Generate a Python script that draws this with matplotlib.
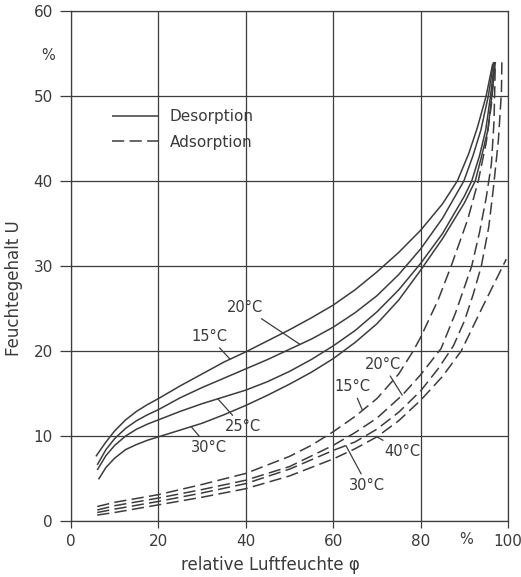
import numpy as np
import matplotlib
matplotlib.use("Agg")
import matplotlib.pyplot as plt
from matplotlib.lines import Line2D

# ---------------- data ----------------
# Desorption isotherms (solid)
des15_x = [5.7, 8, 10, 12.5, 15, 17.5, 20, 25, 30, 35, 40, 45, 50, 55, 60, 65, 70, 75, 80, 85, 88.4, 91, 93, 95, 96.5]
des15_y = [7.6, 9.3, 10.6, 11.9, 12.9, 13.7, 14.4, 15.9, 17.3, 18.7, 19.9, 21.2, 22.5, 23.9, 25.4, 27.2, 29.3, 31.6, 34.2, 37.3, 40, 43.2, 46.3, 50, 53.8]

des20_x = [6, 8, 10, 12.5, 15, 17.5, 20, 25, 30, 35, 40, 45, 50, 55, 60, 65, 70, 75, 80, 85, 89.9, 92, 93.8, 95.5, 96.7]
des20_y = [6.6, 8.4, 9.7, 10.9, 11.8, 12.5, 13.1, 14.5, 15.7, 16.8, 17.9, 19.0, 20.2, 21.4, 22.8, 24.5, 26.5, 29.0, 32.0, 35.6, 40, 43, 46, 50, 54]

des25_x = [6, 8, 10, 12.5, 15, 17.5, 20, 25, 30, 35, 40, 45, 50, 55, 60, 65, 70, 75, 80, 85, 90, 91.7, 93.5, 94.9, 96, 96.9]
des25_y = [6.0, 7.7, 8.9, 10.0, 10.8, 11.4, 11.9, 12.9, 13.8, 14.6, 15.4, 16.4, 17.6, 19.0, 20.6, 22.4, 24.6, 27.2, 30.3, 33.8, 38.2, 40, 43, 46, 50, 54]

des30_x = [6.3, 8, 10, 12.5, 15, 17.5, 20, 25, 30, 35, 40, 45, 50, 55, 60, 65, 70, 75, 80, 85, 90, 92.5, 94, 95.4, 96.3, 97.1]
des30_y = [4.9, 6.3, 7.4, 8.4, 9.0, 9.5, 9.9, 10.7, 11.5, 12.5, 13.6, 14.8, 16.1, 17.5, 19.1, 21.0, 23.2, 26.0, 29.5, 33.2, 37.4, 40, 43, 46, 50, 54]

# Adsorption isotherms (dashed)
ads15_x = [6, 10, 20, 30, 40, 50, 55, 60, 65, 70, 75, 78.3, 80, 84, 87, 90.8, 93.2, 95, 96.2, 97]
ads15_y = [1.7, 2.2, 3.1, 4.3, 5.6, 7.6, 8.9, 10.5, 12.3, 14.4, 17.3, 20, 21.6, 26, 30, 35.5, 40, 44.5, 49, 54]

ads20_x = [6, 10, 20, 30, 40, 50, 60, 65, 70, 75.8, 80, 84.7, 88, 91.7, 93.5, 95, 96.2, 96.8, 97.1]
ads20_y = [1.3, 1.8, 2.7, 3.7, 4.8, 6.4, 8.9, 10.4, 12.1, 14.8, 17.2, 20.3, 24.5, 30, 34, 38, 42, 47, 54]

ads30_x = [6, 10, 20, 30, 40, 50, 60, 65, 70, 75, 80, 84, 87.5, 90, 92, 93.9, 95.6, 96.6, 97.8, 98.5, 98.6]
ads30_y = [1.0, 1.4, 2.3, 3.3, 4.4, 6.1, 8.3, 9.3, 10.8, 12.8, 15.3, 17.9, 20.6, 23.5, 26.6, 30, 34.6, 38.9, 44.8, 50.5, 54]

ads40_x = [6, 10, 20, 30, 40, 50, 60, 65, 70, 75, 80, 85, 89.3, 94, 99.6]
ads40_y = [0.7, 1.0, 1.9, 2.8, 3.8, 5.3, 7.3, 8.5, 9.9, 11.8, 14.2, 17, 20, 25, 30.8]

x_ticks = [0, 20, 40, 60, 80, 100]
y_ticks = [0, 10, 20, 30, 40, 50, 60]
legend_labels = ["Desorption", "Adsorption"]

# ---------------- styling ----------------
INK = "#3c3c3c"
TXT = "#3a3a3a"
FS = 10.5
plt.rcParams["font.family"] = ["DejaVu Sans"]

fig = plt.figure(figsize=(5.21, 5.77), dpi=100)
ax = fig.add_axes([71 / 521, 1 - 521 / 577, (508 - 71) / 521, (521 - 11) / 577])
ax.set_xlim(0, 100)
ax.set_ylim(0, 60)

ax.set_xticks(x_ticks)
ax.set_yticks(y_ticks)
ax.set_xticklabels([str(v) for v in x_ticks])
ax.set_yticklabels([str(v) for v in y_ticks])
ax.tick_params(axis="y", length=8, width=0.9, color=INK, pad=5, labelsize=FS + 0.5, labelcolor=TXT)
ax.tick_params(axis="x", length=5, width=0.9, color=INK, pad=4, labelsize=FS + 0.5, labelcolor=TXT)
ax.grid(True, color=INK, lw=0.9)
for s in ax.spines.values():
    s.set_color(INK)
    s.set_linewidth(0.9)

solid = dict(color=INK, lw=1.1, solid_capstyle="butt", solid_joinstyle="round")
dashed = dict(color=INK, lw=1.1, ls=(0, (8, 3.5)), dash_capstyle="butt")

des = {"15": (des15_x, des15_y), "20": (des20_x, des20_y),
       "25": (des25_x, des25_y), "30": (des30_x, des30_y)}
ads = {"15": (ads15_x, ads15_y), "20": (ads20_x, ads20_y),
       "30": (ads30_x, ads30_y), "40": (ads40_x, ads40_y)}
for xs, ys in des.values():
    ax.plot(xs, ys, **solid)
for xs, ys in ads.values():
    ax.plot(xs, ys, **dashed)

# temperature labels with leader lines
def lab(text, curve, xc, xt, yt):
    xs, ys = curve
    yc = float(np.interp(xc, xs, ys))
    ax.annotate(text, xy=(xc, yc), xytext=(xt, yt), ha="center", va="center",
                fontsize=FS, color=TXT,
                arrowprops=dict(arrowstyle="-", color=INK, lw=0.9,
                                shrinkA=1, shrinkB=0))

lab("20°C", des["20"], 52.4, 39.8, 25.1)
lab("15°C", des["15"], 36.4, 31.6, 21.7)
lab("25°C", des["25"], 33.6, 39.3, 11.1)
lab("30°C", des["30"], 27.5, 31.6, 8.6)
lab("15°C", ads["15"], 66.7, 64.4, 15.8)
lab("20°C", ads["20"], 75.8, 71.4, 18.4)
lab("40°C", ads["40"], 70.0, 75.8, 8.2)
lab("30°C", ads["30"], 62.9, 67.8, 4.2)

# percent unit marks
ax.text(-0.052, 54.8, "%", transform=ax.get_yaxis_transform(), ha="center",
        va="center", fontsize=FS, color=TXT)
ax.text(90.5, -0.037, "%", transform=ax.get_xaxis_transform(), ha="center",
        va="center", fontsize=FS, color=TXT)

# legend
handles = [Line2D([], [], **solid), Line2D([], [], **dashed)]
ax.legend(handles, legend_labels, loc="upper left", bbox_to_anchor=(0.062, 0.835),
          frameon=False, fontsize=FS + 0.5, handlelength=3.0, handletextpad=0.8,
          labelspacing=0.7, labelcolor=TXT)

# axis titles
fig.text(14 / 521, 1 - 288 / 577, "Feuchtegehalt U", rotation=90, ha="center",
         va="center", fontsize=12, color=TXT)
fig.text(270 / 521, 1 - 565 / 577, "relative Luftfeuchte φ", ha="center",
         va="center", fontsize=12, color=TXT)

fig.savefig("out.png", dpi=100, facecolor="white")
